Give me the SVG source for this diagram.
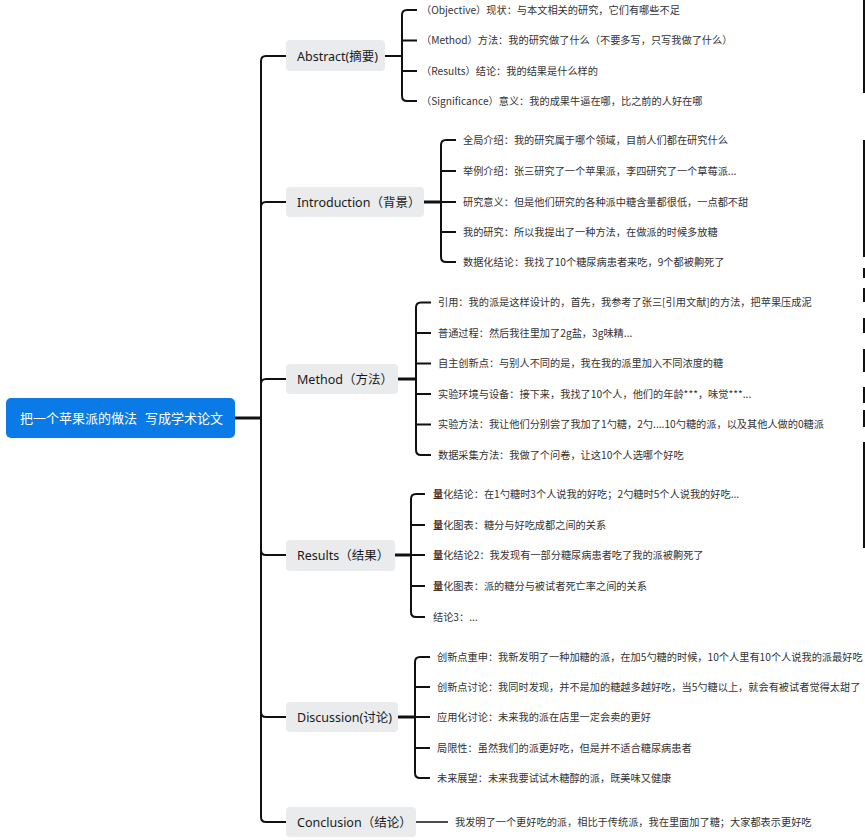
<svg xmlns="http://www.w3.org/2000/svg" width="865" height="840" viewBox="0 0 865 840">
<style>
.ln{fill:none;stroke:#111;stroke-width:2;stroke-linecap:butt}
.thk{fill:none;stroke:#111;stroke-width:3}
.box{fill:#e9ebec}
.l1{font-family:"Noto Sans","Noto Sans CJK SC",sans-serif;font-size:12.5px;fill:#1a1a1a}
.l2{font-family:"Noto Sans CJK SC","Noto Sans",sans-serif;font-size:10.2px;fill:#333}
.rt{font-family:"Noto Sans CJK SC",sans-serif;font-size:13px;fill:#fff}
.q{fill:#4b2e1e;font-weight:bold}
.edge{fill:#111}
</style>
<rect width="865" height="840" fill="#fff"/>
<g id="connectors">
<path class="thk" d="M235,418 H262"/>
<path class="ln" d="M261,61 V817"/>
<path class="ln" d="M261,61 Q261,56 266,56 H286"/>
<path class="ln" d="M261,207 Q261,202 266,202 H286"/>
<path class="ln" d="M261,384 Q261,379 266,379 H286"/>
<path class="ln" d="M261,550 Q261,555 266,555 H286"/>
<path class="ln" d="M261,712 Q261,717 266,717 H286"/>
<path class="ln" d="M261,817 Q261,822 266,822 H286"/>
<path class="ln" d="M385,56 H402"/>
<path class="ln" d="M417,10 H407 Q402,10 402,15 V96 Q402,101 407,101 H417 M402,40.5 H417 M402,71 H417"/>
<path class="thk" d="M424,202 H441"/>
<path class="ln" d="M456,140 H446 Q441,140 441,145 V257 Q441,262 446,262 H456 M441,171 H456 M441,202 H456 M441,232 H456"/>
<path class="thk" d="M398,379 H416"/>
<path class="ln" d="M431,302.5 H421 Q416,302.5 416,307.5 V450 Q416,455 421,455 H431 M416,333 H431 M416,363.5 H431 M416,394 H431 M416,424.5 H431"/>
<path class="thk" d="M395,555 H411"/>
<path class="ln" d="M425,494 H416 Q411,494 411,499 V612 Q411,617 416,617 H425 M411,525 H425 M411,555 H425 M411,586 H425"/>
<path class="thk" d="M398,717 H415"/>
<path class="ln" d="M430,657 H420 Q415,657 415,662 V773 Q415,778 420,778 H430 M415,687 H430 M415,717 H430 M415,748 H430"/>
<path class="ln" style="stroke-width:1.5" d="M416,822 H448"/>
</g>
<g id="root">
<rect x="6" y="398" width="229" height="40" rx="5" fill="#0a7be6"/>
<text class="rt" y="423"><tspan x="20">把一个苹果派的做法</tspan><tspan x="145">写成学术论文</tspan></text>
</g>
<g id="abstract">
<rect class="box" x="286" y="40" width="99" height="31" rx="4"/>
<text class="l1" x="297" y="60.5">Abstract(摘要)</text>
</g>
<g id="abstract-items">
<text class="l2" x="421" y="13.5">（Objective）现状：与本文相关的研究，它们有哪些不足</text>
<text class="l2" x="421" y="44">（Method）方法：我的研究做了什么（不要多写，只写我做了什么）</text>
<text class="l2" x="421" y="74.5">（Results）结论：我的结果是什么样的</text>
<text class="l2" x="421" y="104.5">（Significance）意义：我的成果牛逼在哪，比之前的人好在哪</text>
</g>
<g id="introduction">
<rect class="box" x="286" y="187" width="138" height="30" rx="4"/>
<text class="l1" x="297" y="206.5">Introduction（背景）</text>
</g>
<g id="introduction-items">
<text class="l2" x="463" y="143.5">全局介绍：我的研究属于哪个领域，目前人们都在研究什么</text>
<text class="l2" x="463" y="174.5">举例介绍：张三研究了一个苹果派，李四研究了一个草莓派...</text>
<text class="l2" x="463" y="205.5">研究意义：但是他们研究的各种派中糖含量都很低，一点都不甜</text>
<text class="l2" x="463" y="235.5">我的研究：所以我提出了一种方法，在做派的时候多放糖</text>
<text class="l2" x="463" y="265.5">数据化结论：我找了10个糖尿病患者来吃，9个都被齁死了</text>
</g>
<g id="method">
<rect class="box" x="286" y="364" width="112" height="30" rx="4"/>
<text class="l1" x="297" y="383.5">Method（方法）</text>
</g>
<g id="method-items">
<text class="l2" x="438" y="306">引用：我的派是这样设计的，首先，我参考了张三[引用文献]的方法，把苹果压成泥</text>
<text class="l2" x="438" y="336.5">普通过程：然后我往里加了2g盐，3g味精...</text>
<text class="l2" x="438" y="367">自主创新点：与别人不同的是，我在我的派里加入不同浓度的糖</text>
<text class="l2" x="438" y="397.5">实验环境与设备：接下来，我找了10个人，他们的年龄***，味觉***...</text>
<text class="l2" x="438" y="428">实验方法：我让他们分别尝了我加了1勺糖，2勺....10勺糖的派，以及其他人做的0糖派</text>
<text class="l2" x="438" y="458.5">数据采集方法：我做了个问卷，让这10个人选哪个好吃</text>
</g>
<g id="results">
<rect class="box" x="286" y="540" width="109" height="31" rx="4"/>
<text class="l1" x="297" y="560">Results（结果）</text>
</g>
<g id="results-items">
<text class="l2" x="433" y="497.5"><tspan class="q">量</tspan>化结论：在1勺糖时3个人说我的好吃；2勺糖时5个人说我的好吃...</text>
<text class="l2" x="433" y="528.5"><tspan class="q">量</tspan>化图表：糖分与好吃成都之间的关系</text>
<text class="l2" x="433" y="558.5"><tspan class="q">量</tspan>化结论2：我发现有一部分糖尿病患者吃了我的派被齁死了</text>
<text class="l2" x="433" y="589.5"><tspan class="q">量</tspan>化图表：派的糖分与被试者死亡率之间的关系</text>
<text class="l2" x="433" y="620.5">结论3：...</text>
</g>
<g id="discussion">
<rect class="box" x="286" y="702" width="112" height="30" rx="4"/>
<text class="l1" x="297" y="721.5">Discussion(讨论)</text>
</g>
<g id="discussion-items">
<text class="l2" x="437" y="660.5">创新点重申：我新发明了一种加糖的派，在加5勺糖的时候，10个人里有10个人说我的派最好吃</text>
<text class="l2" x="437" y="690.5">创新点讨论：我同时发现，并不是加的糖越多越好吃，当5勺糖以上，就会有被试者觉得太甜了</text>
<text class="l2" x="437" y="720.5">应用化讨论：未来我的派在店里一定会卖的更好</text>
<text class="l2" x="437" y="751.5">局限性：虽然我们的派更好吃，但是并不适合糖尿病患者</text>
<text class="l2" x="437" y="781.5">未来展望：未来我要试试木糖醇的派，既美味又健康</text>
</g>
<g id="conclusion">
<rect class="box" x="286" y="807" width="130" height="30" rx="4"/>
<text class="l1" x="297" y="826.5">Conclusion（结论）</text>
</g>
<g id="conclusion-items">
<text class="l2" x="455" y="825.5">我发明了一个更好吃的派，相比于传统派，我在里面加了糖；大家都表示更好吃</text>
</g>
<g id="edge-marks">
<rect class="edge" x="863" y="0" width="2" height="93"/>
<rect class="edge" x="863" y="140" width="2" height="117"/>
<rect class="edge" x="863" y="268" width="2" height="10"/>
<rect class="edge" x="863" y="288" width="2" height="14"/>
<rect class="edge" x="863" y="318" width="2" height="15"/>
<rect class="edge" x="863" y="349" width="2" height="23"/>
<rect class="edge" x="863" y="387" width="2" height="16"/>
<rect class="edge" x="863" y="410" width="2" height="17"/>
<rect class="edge" x="863" y="442" width="2" height="106"/>
</g>
</svg>
